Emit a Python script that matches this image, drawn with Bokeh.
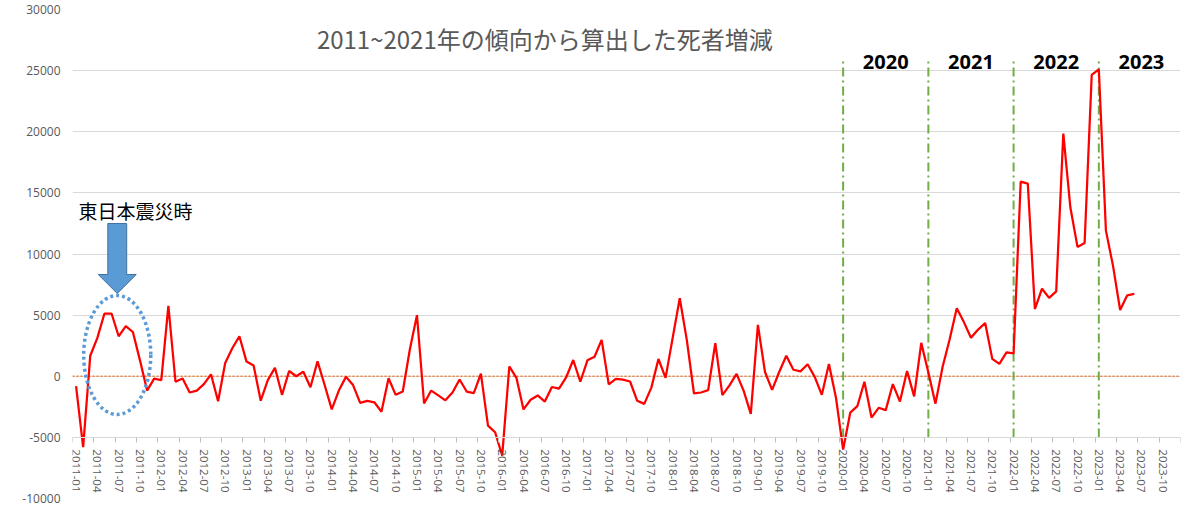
from bokeh.plotting import figure
from bokeh.models import FixedTicker, Span, Label, NumeralTickFormatter
from bokeh.core.properties import value
from bokeh.embed import file_html
from bokeh.resources import INLINE

# ---- data ----
years = list(range(2011, 2024))
month_labels = [f"{y}-{m:02d}" for y in years for m in range(1, 13)]

death_diff = [
    -800, -5800, 1680, 3140, 5130, 5130, 3270, 4100, 3620, 1300, -1170, -190,      # 2011
    -320, 5750, -450, -190, -1330, -1170, -640, 160, -2050, 1090, 2290, 3270,      # 2012
    1200, 880, -2000, -320, 690, -1520, 430, 0, 370, -900, 1220, -720,             # 2013
    -2710, -1170, -50, -720, -2180, -2020, -2130, -2900, -160, -1520, -1250, 2210, # 2014
    5000, -2230, -1170, -1570, -1970, -1330, -270, -1250, -1380, 210, -4040, -4580,# 2015
    -6500, 800, -130, -2710, -1920, -1570, -2070, -880, -1010, -100, 1330, -450,   # 2016
    1300, 1600, 2980, -670, -210, -270, -430, -2000, -2260, -930, 1410, -130,      # 2017
    3140, 6380, 2930, -1410, -1330, -1140, 2710, -1540, -750, 190, -1200, -3080,   # 2018
    4200, 350, -1120, 350, 1680, 530, 400, 980, -50, -1520, 1010, -1780,           # 2019
    -6000, -2980, -2450, -450, -3380, -2580, -2770, -640, -2070, 430, -1650, 2730, # 2020
    300, -2240, 750, 3020, 5560, 4430, 3150, 3820, 4350, 1420, 1010, 1950,         # 2021
    1870, 15920, 15760, 5500, 7160, 6410, 6940, 19850, 13780, 10580, 10900, 24650, # 2022
    25110, 11910, 9030, 5420, 6620, 6730,                                          # 2023
]

tick_idx = list(range(0, 154, 3))
tick_labels = [month_labels[i] for i in tick_idx]
y_ticks = [-10000, -5000, 0, 5000, 10000, 15000, 20000, 25000, 30000]
marker_years = ["2020", "2021", "2022", "2023"]
marker_start = [month_labels.index(f"{y}-01") for y in marker_years]

title_text = "2011~2021年の傾向から算出した死者増減"
note_text = "東日本震災時"

# ---- figure ----
p = figure(width=1184, height=506,
           x_range=(-0.5, 155.5), y_range=(-10000, 30000),
           output_backend="svg", toolbar_location=None,
           min_border_left=72, min_border_right=4,
           min_border_top=9, min_border_bottom=8)
p.outline_line_color = None
p.background_fill_color = "white"
p.border_fill_color = "white"

# x axis crossing at -5000
xa = p.xaxis[0]
xa.fixed_location = -5000
xa.ticker = FixedTicker(ticks=tick_idx, minor_ticks=[i - 0.5 for i in tick_idx] + [155.5])
xa.major_label_overrides = {i: lab for i, lab in zip(tick_idx, tick_labels)}
xa.major_label_orientation = "vertical"
xa.major_tick_line_color = None
xa.major_tick_out = 0
xa.major_tick_in = 0
xa.minor_tick_out = 5
xa.minor_tick_in = 0
xa.minor_tick_line_color = "#bfbfbf"
xa.axis_line_color = "#d9d9d9"
xa.major_label_standoff = 7
xa.major_label_text_font = "Open Sans"
xa.major_label_text_font_size = "11.5px"
xa.major_label_text_color = "#595959"

ya = p.yaxis[0]
ya.ticker = FixedTicker(ticks=y_ticks)
ya.formatter = NumeralTickFormatter(format="0")
ya.axis_line_color = None
ya.major_tick_line_color = None
ya.minor_tick_line_color = None
ya.major_tick_out = 0
ya.major_label_standoff = 12
ya.major_label_text_font = "Open Sans"
ya.major_label_text_font_size = "12px"
ya.major_label_text_color = "#595959"

p.xgrid.visible = False
p.ygrid.grid_line_color = "#d9d9d9"
p.ygrid.grid_line_width = 1

# zero reference line
p.add_layout(Span(location=0, dimension="width", line_color="#ED7D31",
                  line_dash="2 2", line_width=1.5, level="underlay"))

# year separators
p.segment(x0=marker_start, x1=marker_start,
          y0=[-5000] * len(marker_start), y1=[25990] * len(marker_start),
          line_color="#70AD47", line_width=2, line_dash="9 4 2 4")

# main series
p.line(x=list(range(len(death_diff))), y=death_diff,
       line_color="#FF0000", line_width=2.25)

# earthquake highlight
eq_x = 5.8
p.ellipse(x=[eq_x], y=[1738], width=[9.44], height=[9734],
          fill_color=None, line_color="#5B9BD5", line_width=3.5, line_dash="3 3")
shaft_h, head_h = 1.33, 2.68
p.patch(x=[eq_x - shaft_h, eq_x + shaft_h, eq_x + shaft_h, eq_x + head_h, eq_x,
           eq_x - head_h, eq_x - shaft_h],
        y=[12495, 12495, 8323, 8323, 6769, 8323, 8323],
        fill_color="#5B9BD5", line_color="#41719C", line_width=1)
p.text(x=[8.37], y=[13560], text=[note_text],
       text_font=value("Noto Sans CJK JP"), text_font_size="19px",
       text_color="#000000", text_align="center", text_baseline="middle")

# year labels
p.text(x=[s + 6 for s in marker_start], y=[25665] * len(marker_start), text=marker_years,
       text_font=value("Open Sans"), text_font_style="bold", text_font_size="20px",
       text_color="#000000", text_align="center", text_baseline="middle")

# title
p.add_layout(Label(x=66, y=27630, text=title_text,
                   text_font="Noto Sans CJK JP", text_font_size="24px",
                   text_color="#595959", text_align="center", text_baseline="middle"))

open("out.html", "w").write(file_html(p, INLINE))
